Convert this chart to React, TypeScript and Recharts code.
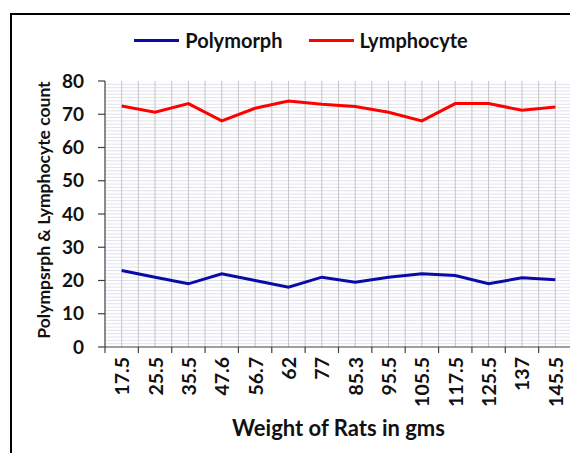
import { LineChart, Line, XAxis, YAxis, CartesianGrid, Legend } from "recharts"

const weights = ["17.5", "25.5", "35.5", "47.6", "56.7", "62", "77", "85.3", "95.5", "105.5", "117.5", "125.5", "137", "145.5"]
const polymorph = [23, 21, 19, 22, 20, 18, 21, 19.5, 21, 22, 21.5, 19, 20.8, 20.2]
const lymphocyte = [72.5, 70.6, 73.2, 68, 71.8, 74, 73, 72.3, 70.6, 68, 73.2, 73.2, 71.2, 72.2]
const yTicks = [0, 10, 20, 30, 40, 50, 60, 70, 80]

const data = weights.map((w, i) => ({ weight: w, polymorph: polymorph[i], lymphocyte: lymphocyte[i] }))

const FONT = "Lato, 'Open Sans', sans-serif"
const W = 574
const H = 453
const X_AXIS_H = 106
const Y_AXIS_W = 105
const M = { top: 81, right: 2, bottom: 0, left: 0 }
const TICK_SIZE = 5
const TICK_MARGIN = 4

const plotW = W - M.left - M.right - Y_AXIS_W
const band = plotW / weights.length

function XTick(props: any) {
  const { x, y, payload } = props
  const axisY = y - TICK_SIZE - TICK_MARGIN
  const left = x - band / 2
  return (
    <g>
      <line x1={left} x2={left} y1={axisY} y2={axisY + 6} stroke="#404040" strokeWidth={1.2} />
      <text
        x={x}
        y={y + 1}
        transform={`rotate(-90 ${x} ${y + 1})`}
        textAnchor="end"
        dominantBaseline="central"
        fontSize={19.5}
        fontWeight={700}
        fontFamily={FONT}
        fill="#111"
      >
        {payload.value}
      </text>
    </g>
  )
}

function YLabel(props: any) {
  const { viewBox } = props
  const cx = 43
  const cy = viewBox.y + viewBox.height / 2 - 4
  return (
    <text
      x={cx}
      y={cy}
      transform={`rotate(-90 ${cx} ${cy})`}
      textAnchor="middle"
      dominantBaseline="central"
      fontSize={17.5}
      fontWeight={700}
      fontFamily={FONT}
      fill="#111"
    >
      Polympsrph &amp; Lymphocyte count
    </text>
  )
}

function LegendContent() {
  const items = [
    { name: "Polymorph", color: "#0a0aa6" },
    { name: "Lymphocyte", color: "#ff0000" },
  ]
  return (
    <div style={{ display: "flex", justifyContent: "center", gap: 26, fontFamily: FONT, fontWeight: 700, fontSize: 20, color: "#111", lineHeight: "24px" }}>
      {items.map((it) => (
        <div key={it.name} style={{ display: "flex", alignItems: "center" }}>
          <span style={{ display: "inline-block", width: 45, height: 3, background: it.color, marginRight: 6 }} />
          {it.name}
        </div>
      ))}
    </div>
  )
}

const halfSteps = ({ offset }: any) => {
  const xs: number[] = []
  for (let i = 1; i < weights.length * 2; i++) xs.push(offset.left + (i * offset.width) / (weights.length * 2))
  return xs
}

const unitSteps = ({ offset }: any) => {
  const ys: number[] = []
  for (let v = 1; v < 80; v++) ys.push(offset.top + offset.height - (v * offset.height) / 80)
  return ys
}

export default function App() {
  return (
    <div style={{ position: "fixed", left: 0, top: 0, width: 570, height: 453, overflow: "hidden", background: "#fff" }}>
      <div style={{ position: "absolute", left: 10, top: 13, width: 620, height: 520, border: "2px solid #000", boxSizing: "border-box" }} />
      <div style={{ position: "absolute", left: 0, top: 0 }}>
        <LineChart width={W} height={H} data={data} margin={M}>
          <CartesianGrid stroke="#e2e2ee" vertical={false} horizontalCoordinatesGenerator={unitSteps} />
          <CartesianGrid stroke="#c4c4c4" horizontal={false} verticalCoordinatesGenerator={halfSteps} />
          <XAxis
            dataKey="weight"
            scale="band"
            interval={0}
            height={X_AXIS_H}
            tickLine={false}
            tickSize={TICK_SIZE}
            tickMargin={TICK_MARGIN}
            tick={<XTick />}
            axisLine={{ stroke: "#404040", strokeWidth: 1.2 }}
            label={{ value: "Weight of Rats in gms", position: "insideBottom", offset: 17, fontSize: 22, fontWeight: 700, fontFamily: FONT, fill: "#111" }}
          />
          <YAxis
            domain={[0, 80]}
            ticks={yTicks}
            interval={0}
            width={Y_AXIS_W}
            tickSize={7}
            tickMargin={14}
            tickLine={{ stroke: "#404040", strokeWidth: 1.2 }}
            axisLine={{ stroke: "#404040", strokeWidth: 1.2 }}
            tick={{ fontSize: 19, fontWeight: 700, fontFamily: FONT, fill: "#111" }}
            label={<YLabel />}
          />
          <Legend verticalAlign="middle" align="center" content={<LegendContent />} wrapperStyle={{ top: 28, left: 0, width: 602 }} />
          <Line dataKey="polymorph" name="Polymorph" stroke="#0a0aa6" strokeWidth={3} dot={false} isAnimationActive={false} />
          <Line dataKey="lymphocyte" name="Lymphocyte" stroke="#ff0000" strokeWidth={3} dot={false} isAnimationActive={false} />
        </LineChart>
      </div>
    </div>
  )
}
